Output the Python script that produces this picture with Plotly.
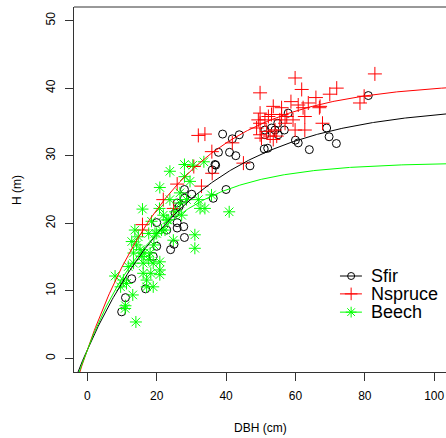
import numpy as np
import plotly.graph_objects as go

# Sfir (open circles)
sfir_dbh = [9.9, 11.0, 12.8, 16.8, 19.0, 20.0, 20.0, 22.9, 24.0, 25.0, 25.3, 25.9, 25.9, 25.9,
            26.5, 27.8, 28.0, 28.0, 28.0, 30.1, 36.0, 36.3, 36.8, 37.0, 37.8, 39.0, 40.0, 41.0,
            41.8, 42.8, 43.8, 46.9, 51.0, 51.2, 51.2, 52.0, 53.1, 54.1, 54.9, 55.0, 56.8, 57.9,
            60.0, 60.8, 64.0, 69.0, 69.7, 71.8, 81.0]
sfir_h = [6.9, 9.0, 11.8, 10.3, 15.1, 16.6, 20.1, 19.0, 16.1, 16.9, 21.5, 23.0, 20.1, 19.3,
          22.5, 19.5, 17.9, 23.7, 25.0, 24.3, 27.9, 23.7, 28.7, 28.6, 30.5, 33.2, 25.0, 30.5,
          32.5, 30.0, 33.1, 28.5, 31.0, 33.1, 33.8, 31.1, 34.1, 33.8, 34.8, 33.1, 33.8, 36.3,
          32.3, 31.9, 30.9, 34.1, 32.8, 31.8, 38.9]

# Nspruce (plus)
nspruce_dbh = [15.9, 15.9, 21.9, 24.9, 25.9, 30.7, 32.0, 33.9, 32.9, 35.9, 36.0, 41.8, 45.0,
               48.8, 49.3, 49.8, 49.8, 49.8, 49.8, 50.2, 51.2, 51.7, 52.2, 52.7, 53.1, 53.6,
               53.6, 54.1, 54.6, 55.5, 56.0, 56.0, 57.0, 57.5, 58.7, 59.3, 59.9, 59.9, 60.8,
               61.8, 62.2, 62.7, 62.7, 63.7, 65.9, 66.9, 67.1, 67.8, 69.9, 71.9, 78.6, 79.8, 82.9]
nspruce_h = [19.8, 19.0, 23.5, 22.2, 25.8, 28.4, 33.0, 33.2, 25.5, 30.6, 27.4, 31.9, 28.9,
             34.1, 35.3, 39.3, 36.3, 34.8, 33.1, 32.6, 35.3, 33.6, 35.8, 32.9, 36.1, 37.3,
             32.4, 33.8, 32.9, 35.3, 37.1, 36.1, 34.8, 35.8, 38.0, 35.3, 41.5, 33.8, 37.5,
             39.8, 37.1, 35.8, 33.8, 37.8, 38.6, 37.1, 37.3, 34.8, 39.1, 40.0, 37.8, 38.8, 42.1]

# Beech (asterisk)
beech_dbh = [8.0, 9.6, 10.4, 11.0, 11.3, 13.1, 14.0, 12.8, 13.7, 11.8, 13.3, 14.2, 15.9, 15.7,
             16.1, 16.1, 17.1, 17.1, 18.1, 18.3, 19.0, 19.2, 19.5, 18.5, 20.9, 20.8, 20.9, 20.9,
             20.9, 21.9, 22.4, 23.8, 23.3, 24.8, 25.3, 26.7, 27.2, 28.0, 28.0, 28.6, 29.6, 30.4,
             31.0, 31.0, 32.0, 32.5, 33.9, 33.6, 35.8, 40.9, 13.3, 14.7, 15.2, 16.4, 17.7, 17.7,
             19.0, 20.0, 21.4, 22.9, 26.7, 23.8, 10.9]
beech_h = [12.2, 10.6, 11.6, 7.8, 11.1, 9.4, 5.4, 17.3, 19.0, 13.6, 14.1, 16.8, 22.1, 15.1,
           14.1, 12.6, 11.6, 10.6, 15.6, 12.6, 10.6, 16.8, 18.5, 20.3, 25.3, 22.2, 14.3, 13.1,
           12.4, 21.2, 19.0, 27.7, 20.5, 17.5, 21.7, 24.5, 21.2, 28.7, 26.9, 23.5, 26.2, 28.6,
           18.3, 16.3, 23.5, 22.2, 22.2, 29.1, 24.2, 21.7, 15.6, 18.0, 16.1, 15.6, 14.6, 18.5,
           14.1, 18.5, 19.0, 20.5, 23.0, 23.5, 7.4]

# fitted H = 1.3 + a*(1 - exp(-b*DBH))
species = ["Sfir", "Nspruce", "Beech"]
fit_a = [36.2, 39.6, 27.7]
fit_b = [0.032, 0.037, 0.048]
colors = ["black", "#FF0000", "#00FF00"]
symbols = ["circle-open", "cross-thin-open", "asterisk-open"]
sizes = [8, 10, 10]

FONT = "Liberation Sans, Arial, sans-serif"

fig = go.Figure()

pts = [(sfir_dbh, sfir_h), (nspruce_dbh, nspruce_h), (beech_dbh, beech_h)]
for (x, y), c, s, sz in zip(pts, colors, symbols, sizes):
    fig.add_trace(go.Scatter(x=x, y=y, mode="markers", showlegend=False,
                             marker=dict(symbol=s, size=sz, color=c,
                                         line=dict(color=c, width=1))))

dgrid = np.linspace(-5, 105, 300)
for a, b, c in zip(fit_a, fit_b, colors):
    fig.add_trace(go.Scatter(x=dgrid, y=1.3 + a * (1 - np.exp(-b * dgrid)), mode="lines",
                             showlegend=False, line=dict(color=c, width=1)))

# hand made legend like R's legend(), drawn on an overlay axis in 0..1 units
leg_y = [0.263, 0.214, 0.164]
for name, c, s, sz, ly in zip(species, colors, symbols, sizes, leg_y):
    fig.add_trace(go.Scatter(x=[0.715, 0.774], y=[ly, ly], mode="lines", xaxis="x2", yaxis="y2",
                             showlegend=False, line=dict(color=c, width=1), hoverinfo="skip"))
    fig.add_trace(go.Scatter(x=[0.745], y=[ly], mode="markers", xaxis="x2", yaxis="y2",
                             showlegend=False, hoverinfo="skip",
                             marker=dict(symbol=s, size=sz - 1, color=c,
                                         line=dict(color=c, width=1))))
    fig.add_annotation(x=0.797, y=ly, xref="x2", yref="y2", text=name, showarrow=False,
                       xanchor="left", yanchor="middle", borderpad=0,
                       font=dict(size=18, family=FONT, color="black"))

# axis titles, placed like R's mtext
fig.add_annotation(x=0.502, y=-0.153, xref="paper", yref="paper", text="DBH (cm)",
                   showarrow=False, xanchor="center", yanchor="middle",
                   font=dict(size=12, family=FONT, color="black"))
fig.add_annotation(x=-0.153, y=0.499, xref="paper", yref="paper", text="H (m)",
                   showarrow=False, xanchor="center", yanchor="middle", textangle=-90,
                   font=dict(size=12, family=FONT, color="black"))

axis_common = dict(showgrid=False, zeroline=False, showline=True, linecolor="#333",
                   ticks="outside", ticklen=8, tickcolor="#333", automargin=False,
                   ticklabelstandoff=5,
                   tickfont=dict(size=12, family=FONT, color="black"))

fig.update_layout(
    width=446, height=438,
    margin=dict(l=74, r=0, t=7, b=66),
    plot_bgcolor="white", paper_bgcolor="white",
    font=dict(family=FONT, color="black", size=12),
    showlegend=False,
    xaxis=dict(range=[-3.84, 103.4], tickvals=[0, 20, 40, 60, 80, 100], **axis_common),
    yaxis=dict(range=[-2, 52], tickvals=[0, 10, 20, 30, 40, 50], tickangle=-90, **axis_common),
    xaxis2=dict(range=[0, 1], overlaying="x", visible=False, fixedrange=True),
    yaxis2=dict(range=[0, 1], overlaying="y", visible=False, fixedrange=True),
    shapes=[dict(type="line", xref="paper", yref="paper", x0=0, x1=1, y0=1, y1=1,
                 line=dict(color="#333", width=1))],
)

fig.write_html("out.html", config={"displayModeBar": False},
               post_script="document.body.style.margin='0';")
